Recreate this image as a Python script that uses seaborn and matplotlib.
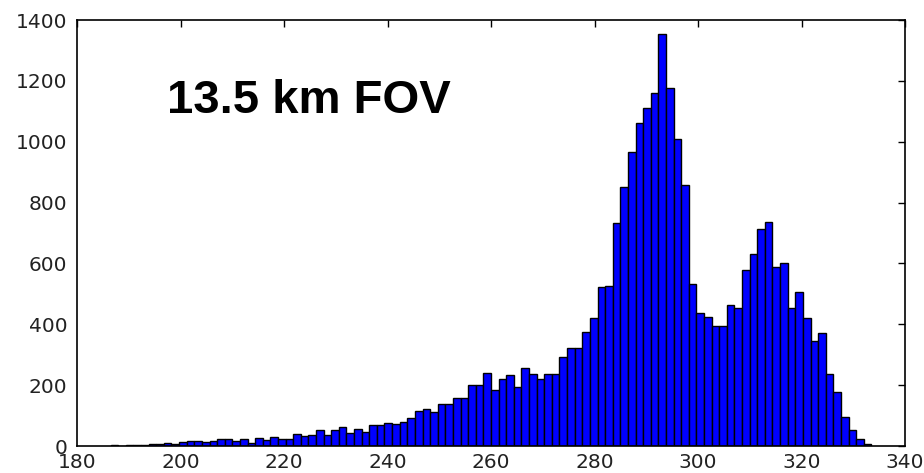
import numpy as np
import pandas as pd
import matplotlib
matplotlib.use("Agg")
import matplotlib.pyplot as plt
import seaborn as sns

# Histogram data: 100 equal bins
bin_start = 186.5
bin_end = 333.5
counts = [
    2, 1, 3, 2, 3, 5, 8, 10, 7, 14,
    15, 18, 12, 16, 22, 22, 16, 22, 11, 25,
    20, 31, 22, 22, 38, 33, 37, 51, 37, 51,
    64, 44, 56, 47, 69, 69, 77, 71, 78, 91,
    116, 122, 113, 138, 138, 157, 157, 200, 200, 241,
    184, 221, 234, 195, 256, 237, 220, 237, 237, 293,
    321, 321, 374, 420, 521, 526, 732, 852, 967, 1062,
    1112, 1159, 1353, 1178, 1008, 858, 531, 437, 425, 394,
    394, 463, 452, 578, 630, 713, 735, 589, 602, 455,
    507, 420, 346, 372, 235, 176, 96, 53, 22, 6,
]
x_ticks = [180, 200, 220, 240, 260, 280, 300, 320, 340]
y_ticks = [0, 200, 400, 600, 800, 1000, 1200, 1400]
title_text = "13.5 km FOV"

edges = np.linspace(bin_start, bin_end, len(counts) + 1)
centers = (edges[:-1] + edges[1:]) / 2
df = pd.DataFrame({"temp": centers, "count": counts})

sns.set_style("white")
plt.rcParams["font.family"] = ["DejaVu Sans"]

fig = plt.figure(figsize=(9.24, 4.73), dpi=100)
ax = fig.add_axes([77 / 924, 1 - 446 / 473, (905 - 77) / 924, (446 - 20) / 473])

sns.histplot(data=df, x="temp", weights="count", bins=[float(e) for e in edges],
             color="#0000ff", edgecolor="black", linewidth=1.0,
             alpha=1.0, ax=ax)

ax.set_xlim(180, 340)
ax.set_ylim(0, 1400)
ax.set_xticks(x_ticks)
ax.set_yticks(y_ticks)
ax.set_xlabel("")
ax.set_ylabel("")
for s in ax.spines.values():
    s.set_visible(True)
    s.set_color("black")
    s.set_linewidth(1.2)
ax.tick_params(direction="in", length=5, width=1, top=True, right=True,
               labelsize=14.5, colors="black", labelcolor="#222222")
ax.tick_params(axis="x", pad=5)
ax.tick_params(axis="y", pad=7)

ax.text(197.3, 1094, title_text, fontsize=34, fontweight="bold",
        family=["Liberation Sans", "DejaVu Sans"], ha="left", va="baseline",
        color="black")

fig.savefig("out.png", dpi=100)
